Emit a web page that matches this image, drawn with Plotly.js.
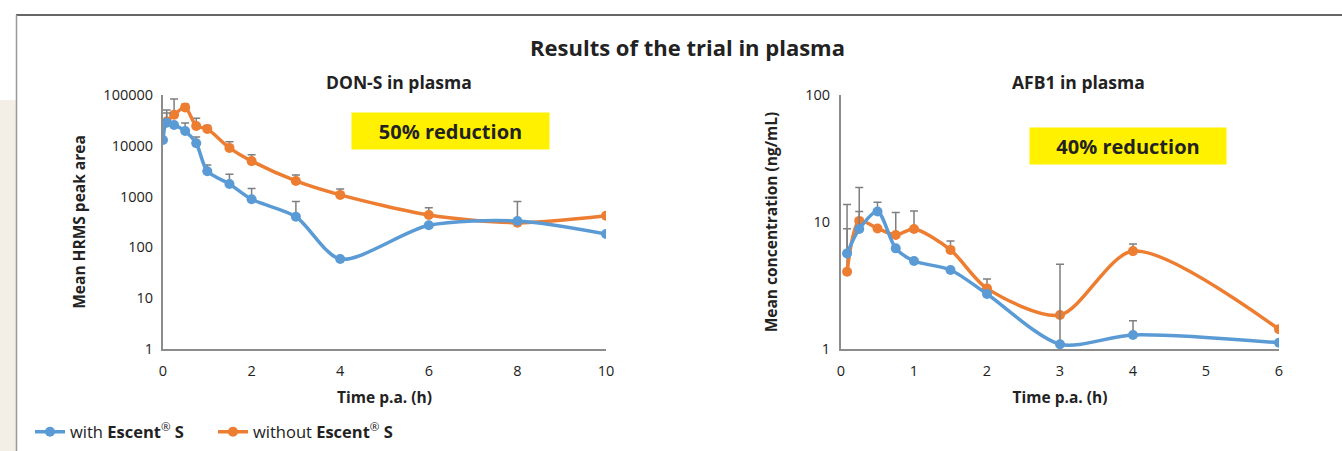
<!DOCTYPE html>
<html>
<head>
<meta charset="utf-8">
<script src="https://cdn.plot.ly/plotly-3.0.1.min.js"></script>
<style>
html,body{margin:0;padding:0;background:#fff;}
#chart{width:1342px;height:451px;}
</style>
</head>
<body>
<div id="chart"></div>
<script>
// ---- DON-S in plasma ----
var donTime = [0, 0.083, 0.25, 0.5, 0.75, 1, 1.5, 2, 3, 4, 6, 8, 10];
var donWith = [13000, 28500, 25700, 19500, 11200, 3160, 1770, 885, 402, 59, 272, 331, 184];
var donWithErr = [0, 15800, 0, 8500, 3700, 1040, 980, 565, 398, 0, 0, 470, 0];
var donWithout = [27000, 30000, 41000, 57000, 24600, 21400, 9100, 5000, 2030, 1080, 435, 306, 421];
var donWithoutErr = [0, 20700, 42000, 9000, 10400, 3600, 2900, 1700, 630, 330, 165, 0, 0];

// ---- AFB1 in plasma ----
var afbTime = [0.083, 0.25, 0.5, 0.75, 1, 1.5, 2, 3, 4, 6];
var afbWith = [5.66, 8.8, 12.1, 6.2, 4.93, 4.19, 2.71, 1.09, 1.29, 1.12];
var afbWithErr = [8.1, 3.3, 2.2, 0, 0, 0, 0, 3.55, 0.38, 0];
var afbWithout = [4.06, 10.2, 8.9, 7.9, 8.8, 6.03, 3.0, 1.85, 5.9, 1.43];
var afbWithoutErr = [4.8, 8.5, 0, 4.0, 3.4, 1.05, 0.56, 0.05, 0.8, 0];

var seriesNames = ['with <b>Escent</b><sup>®</sup> <b>S</b>', 'without <b>Escent</b><sup>®</sup> <b>S</b>'];
var donTicks = [1, 10, 100, 1000, 10000, 100000];
var afbTicks = [1, 10, 100];

var BLUE = '#5B9BD5', ORANGE = '#ED7D31';
var FONT = 'Open Sans, sans-serif';

function mk(x, y, err, name, color, xa, ya, show) {
  return {
    x: x, y: y, name: name, type: 'scatter', mode: 'lines+markers',
    xaxis: xa, yaxis: ya, legendgroup: name, showlegend: show,
    line: {color: color, width: 3.5, shape: 'spline', smoothing: 0.8},
    marker: {color: color, size: 10},
    error_y: {type: 'data', array: err, arrayminus: err.map(function(){return 0;}),
              symmetric: false, color: '#7f7f7f', thickness: 1.5, width: 4}
  };
}

var data = [
  mk(donTime, donWithout, donWithoutErr, seriesNames[1], ORANGE, 'x', 'y', true),
  mk(donTime, donWith, donWithErr, seriesNames[0], BLUE, 'x', 'y', true),
  mk(afbTime, afbWithout, afbWithoutErr, seriesNames[1], ORANGE, 'x2', 'y2', false),
  mk(afbTime, afbWith, afbWithErr, seriesNames[0], BLUE, 'x2', 'y2', false)
];

var W = 1342, H = 451;
function px(x){return x / W;}
function py(y){return (H - y) / H;}

var axisCommon = {
  showgrid: false, zeroline: false, showline: true, linecolor: '#8c8c8c', linewidth: 2,
  ticks: '', tickfont: {family: FONT, size: 14.5, color: '#222'}, fixedrange: true
};
var titleFont = {family: FONT, size: 15.5, color: '#222'};

function ann(text, x, y, size, extra) {
  var a = {text: text, xref: 'paper', yref: 'paper', x: px(x), y: py(y),
           xanchor: 'center', yanchor: 'middle', showarrow: false,
           font: {family: FONT, size: size, color: '#222'}};
  return Object.assign(a, extra || {});
}

var layout = {
  width: W, height: H,
  margin: {l: 0, r: 0, t: 0, b: 0},
  paper_bgcolor: '#ffffff', plot_bgcolor: 'rgba(0,0,0,0)',
  font: {family: FONT, color: '#222'},
  showlegend: true,
  legend: {orientation: 'h', x: px(30), y: py(432), xanchor: 'left', yanchor: 'middle',
           font: {family: FONT, size: 16.5, color: '#222'}, traceorder: 'reversed',
           entrywidth: 138, entrywidthmode: 'pixels',
           itemwidth: 30, bgcolor: 'rgba(0,0,0,0)'},
  xaxis: Object.assign({}, axisCommon, {
    domain: [px(163), px(606)], range: [0, 10], tickvals: [0, 2, 4, 6, 8, 10],
    anchor: 'y', ticklabelstandoff: 8,
    title: {text: '<b>Time p.a. (h)</b>', font: titleFont, standoff: 13}
  }),
  yaxis: Object.assign({}, axisCommon, {
    domain: [py(349), py(95)], type: 'log', range: [0, 5], tickvals: donTicks,
    ticktext: donTicks.map(String), anchor: 'x', ticklabelstandoff: 5,
    title: {text: '<b>Mean HRMS peak area</b>', font: titleFont, standoff: 14}
  }),
  xaxis2: Object.assign({}, axisCommon, {
    domain: [px(841), px(1279)], range: [0, 6], tickvals: [0, 1, 2, 3, 4, 5, 6],
    anchor: 'y2', ticklabelstandoff: 8,
    title: {text: '<b>Time p.a. (h)</b>', font: titleFont, standoff: 13}
  }),
  yaxis2: Object.assign({}, axisCommon, {
    domain: [py(349), py(95)], type: 'log', range: [0, 2], tickvals: afbTicks,
    ticktext: afbTicks.map(String), anchor: 'x2', ticklabelstandoff: 6,
    title: {text: '<b>Mean concentration (ng/mL)</b>', font: titleFont, standoff: 24}
  }),
  shapes: [
    {type: 'rect', xref: 'paper', yref: 'paper', x0: 0, x1: px(16), y0: 0, y1: py(100),
     fillcolor: '#f3efe7', line: {width: 0}, layer: 'below'},
    {type: 'line', xref: 'paper', yref: 'paper', x0: px(16), x1: 1, y0: py(15), y1: py(15),
     line: {color: '#333', width: 1.5}},
    {type: 'line', xref: 'paper', yref: 'paper', x0: px(16.5), x1: px(16.5), y0: py(15), y1: 0,
     line: {color: '#999', width: 1.5}}
  ],
  annotations: [
    ann('<b>Results of the trial in plasma</b>', 687, 47, 22),
    ann('<b>DON-S in plasma</b>', 399, 82, 17.5),
    ann('<b>AFB1 in plasma</b>', 1078, 82, 17.5),
    ann('<b>50% reduction</b>', 450.5, 131, 20, {bgcolor: '#FFF100', width: 195, height: 34}),
    ann('<b>40% reduction</b>', 1128, 146, 20, {bgcolor: '#FFF100', width: 194, height: 34})
  ]
};

Plotly.newPlot('chart', data, layout, {displayModeBar: false, staticPlot: true});
</script>
</body>
</html>
